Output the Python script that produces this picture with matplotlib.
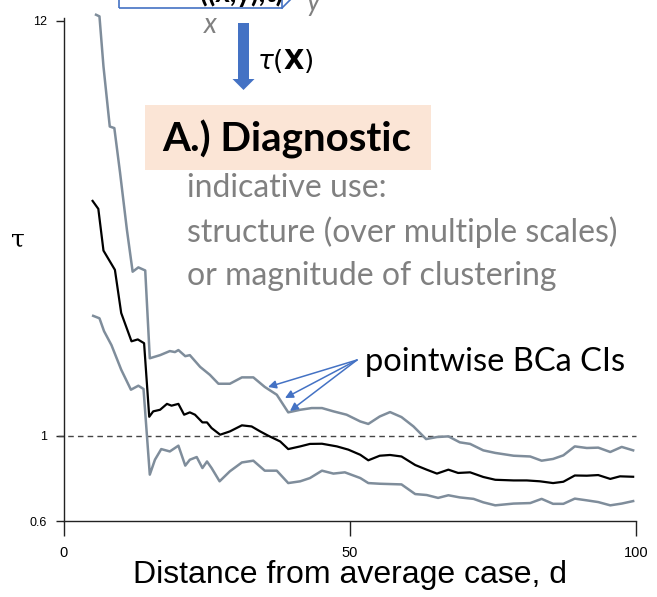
import numpy as np
import matplotlib as mpl
mpl.use('Agg')
import matplotlib.pyplot as plt
from matplotlib.patches import Rectangle, FancyArrow

# tau estimate vs distance (black) and pointwise BCa CI bounds (grey)
d_mid = [5.0, 6.0, 6.9, 8.9, 10.0, 11.8, 12.9, 14.0, 14.9, 15.6, 16.8, 18.0, 18.8, 20.0,
         21.0, 22.0, 22.9, 24.2, 25.0, 25.8, 27.3, 29.0, 31.1, 32.8, 34.3, 35.7, 37.8, 39.2,
         41.3, 43.0, 45.1, 47.7, 49.7, 51.8, 53.2, 55.2, 57.0, 59.0, 61.4, 63.4, 65.2, 67.2,
         68.9, 71.0, 73.3, 75.4, 78.6, 80.9, 83.2, 85.5, 87.3, 89.3, 91.4, 93.4, 95.5, 97.2, 99.5]
tau_mid = [4.08, 3.89, 3.03, 2.70, 2.085, 1.76, 1.78, 1.74, 1.12, 1.157, 1.168, 1.21, 1.197, 1.21,
           1.134, 1.15, 1.134, 1.083, 1.083, 1.047, 1.006, 1.026, 1.064, 1.057, 1.026, 1.0, 0.966, 0.923,
           0.938, 0.952, 0.953, 0.938, 0.920, 0.892, 0.863, 0.887, 0.891, 0.883, 0.839, 0.816, 0.797, 0.816,
           0.800, 0.803, 0.781, 0.768, 0.765, 0.765, 0.761, 0.753, 0.759, 0.788, 0.787, 0.790, 0.772, 0.784, 0.782]

d_up = [5.6, 6.2, 6.9, 8.0, 8.8, 9.8, 11.0, 12.0, 13.0, 14.2, 15.0, 16.8, 18.5, 19.4, 20.0,
        21.2, 22.0, 23.8, 25.5, 27.0, 29.0, 31.1, 33.1, 35.1, 37.2, 39.2, 41.3, 43.3, 45.1, 47.1,
        49.4, 51.8, 53.2, 55.2, 57.0, 59.0, 61.1, 63.3, 65.2, 67.2, 69.2, 71.0, 73.3, 75.4, 78.6,
        81.5, 83.5, 85.5, 87.3, 89.3, 91.4, 93.4, 95.5, 97.5, 99.5]
tau_up = [12.44, 12.32, 9.13, 6.37, 6.31, 4.83, 3.43, 2.67, 2.74, 2.69, 1.59, 1.62, 1.66, 1.65, 1.67,
          1.61, 1.62, 1.51, 1.44, 1.365, 1.365, 1.418, 1.418, 1.339, 1.278, 1.15, 1.168, 1.18, 1.18, 1.157,
          1.134, 1.089, 1.073, 1.122, 1.152, 1.118, 1.057, 0.980, 0.992, 0.996, 0.961, 0.952, 0.916, 0.902, 0.887,
          0.883, 0.861, 0.870, 0.889, 0.938, 0.929, 0.931, 0.907, 0.935, 0.916]

d_lo = [5.1, 6.2, 7.0, 8.3, 10.0, 11.7, 13.0, 13.9, 15.0, 15.9, 17.0, 18.5, 20.0, 21.2, 22.0,
        23.2, 24.2, 25.0, 25.8, 27.2, 29.0, 31.1, 33.1, 35.1, 37.2, 39.2, 41.3, 43.0, 45.1, 47.1,
        49.1, 51.8, 53.2, 55.2, 59.0, 61.4, 63.4, 65.4, 67.2, 69.2, 71.6, 73.3, 75.4, 78.6, 81.5,
        83.5, 85.5, 87.3, 89.3, 91.4, 93.4, 95.5, 97.5, 99.5]
tau_lo = [2.05, 2.02, 1.87, 1.72, 1.485, 1.317, 1.349, 1.323, 0.792, 0.866, 0.923, 0.910, 0.942, 0.836, 0.866,
          0.880, 0.824, 0.857, 0.824, 0.761, 0.808, 0.852, 0.861, 0.811, 0.811, 0.753, 0.761, 0.776, 0.811, 0.797,
          0.803, 0.776, 0.753, 0.750, 0.747, 0.705, 0.701, 0.689, 0.700, 0.691, 0.685, 0.671, 0.659, 0.666, 0.668,
          0.685, 0.665, 0.665, 0.686, 0.679, 0.672, 0.659, 0.666, 0.676]

W, H = 657, 597


def fx(x):
    return x / W


def fy(y):
    return 1 - y / H


def main():
    fig = plt.figure(figsize=(6.57, 5.97), dpi=100)
    ax = fig.add_axes([fx(64), fy(521), fx(636) - fx(64), fy(18) - fy(521)])

    ci_col = '#7f8d9b'
    ax.plot(d_up, tau_up, color=ci_col, lw=1.8, clip_on=False, zorder=3)
    ax.plot(d_lo, tau_lo, color=ci_col, lw=1.8, zorder=3)
    ax.plot(d_mid, tau_mid, color='black', lw=1.6, zorder=4)
    ax.axhline(1, xmin=-0.01, xmax=1.0, color='#444444', lw=1, ls=(0, (4, 3)), clip_on=False)

    ax.set_yscale('log')
    ax.set_xlim(0, 100)
    ax.set_ylim(0.6, 12.2)
    ax.set_yticks([0.6, 1, 12])
    ax.set_yticklabels(['0.6', '1', '12'])
    ax.yaxis.set_minor_locator(mpl.ticker.NullLocator())
    ax.set_xticks([0, 50, 100])
    ax.spines['top'].set_visible(False)
    ax.spines['right'].set_visible(False)
    for s in ['left', 'bottom']:
        ax.spines[s].set_linewidth(1.0)
        ax.spines[s].set_color('#222222')
    ax.tick_params(axis='y', length=6, width=1, labelsize=9, pad=6, color='#222222')
    ax.tick_params(axis='x', length=11, width=1, labelsize=10.5, pad=7, color='#222222')
    for lab in ax.get_xticklabels() + ax.get_yticklabels():
        lab.set_family('Liberation Sans')

    ax.set_xlabel('Distance from average case, d', fontsize=23, family='Liberation Sans', labelpad=0)
    fig.text(fx(18), fy(240), 'τ', fontsize=18, family='DejaVu Serif', ha='center', va='center')

    # partly visible diagram at top (cut off by the figure edge, as in the source)
    blue = '#4472C4'
    fig.patches.append(Rectangle((fx(119), fy(8)), fx(282) - fx(119), 0.05,
                                 transform=fig.transFigure, fill=False, ec=blue, lw=1.2))
    fig.lines.append(plt.Line2D([fx(282), fx(291)], [fy(8), fy(-1)], transform=fig.transFigure,
                                color=blue, lw=1.2))
    fig.text(fx(200), fy(-7), '((x,y),t)', fontsize=20, weight='bold', family='Lato',
             ha='left', va='center')
    fig.text(fx(210), fy(25), 'x', fontsize=20, style='italic', color='#808080',
             family='Lato', ha='center', va='center')
    fig.text(fx(314), fy(3), 'y', fontsize=20, style='italic', color='#808080',
             family='Lato', ha='center', va='center')
    fig.patches.append(FancyArrow(fx(243.5), fy(23), 0, -(fy(23) - fy(90)), width=fx(11),
                                  head_width=fx(22), head_length=(fy(79) - fy(90)),
                                  length_includes_head=True, transform=fig.transFigure,
                                  color=blue, lw=0))
    fig.text(fx(257), fy(61), r'$\tau(\mathbf{X})$', fontsize=19, ha='left', va='center')

    fig.patches.append(Rectangle((fx(145), fy(170)), fx(431) - fx(145), fy(105) - fy(170),
                                 transform=fig.transFigure, fc='#FBE5D6', ec='none'))
    fig.text(fx(162), fy(139), 'A.) Diagnostic', fontsize=29, weight='bold', family='Lato',
             ha='left', va='center')
    grey_lines = ['indicative use:', 'structure (over multiple scales)', 'or magnitude of clustering']
    for i, t in enumerate(grey_lines):
        fig.text(fx(187), fy(188 + 44 * i), t, fontsize=23, color='#808080', family='Lato',
                 ha='left', va='center')

    fig.text(fx(365), fy(362), 'pointwise BCa CIs', fontsize=23.5, family='Lato',
             ha='left', va='center')
    for tx, ty in [(268, 387), (285, 398), (290, 411)]:
        ax.annotate('', xy=(fx(tx), fy(ty)), xytext=(fx(357), fy(360)),
                    xycoords='figure fraction', textcoords='figure fraction',
                    arrowprops=dict(arrowstyle='-|>', color=blue, lw=1.1,
                                    mutation_scale=12, shrinkA=0, shrinkB=0))

    plt.savefig('out.png', dpi=100)


if __name__ == '__main__':
    main()
